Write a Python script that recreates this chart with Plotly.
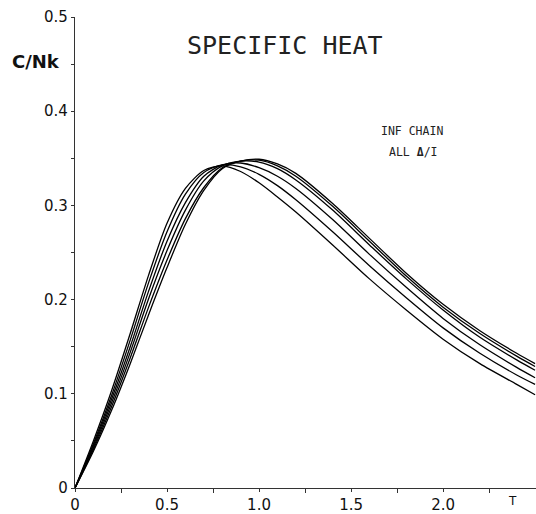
import plotly.graph_objects as go

# Temperature grid (T)
T = [0, 0.1, 0.2, 0.3, 0.4, 0.5, 0.6, 0.7, 0.8, 0.9, 1.0, 1.1, 1.2, 1.4, 1.6, 1.8, 2.0, 2.2, 2.4, 2.5]

# Specific heat C/Nk, six curves for different Δ/I
curve_a = [0, 0.050, 0.104, 0.164, 0.226, 0.281, 0.318, 0.337, 0.342, 0.336, 0.324, 0.309, 0.293, 0.258, 0.222, 0.189, 0.158, 0.132, 0.110, 0.099]
curve_b = [0, 0.047, 0.099, 0.157, 0.218, 0.272, 0.312, 0.335, 0.343, 0.341, 0.333, 0.321, 0.306, 0.272, 0.236, 0.202, 0.170, 0.143, 0.120, 0.110]
curve_c = [0, 0.045, 0.095, 0.150, 0.209, 0.262, 0.303, 0.331, 0.343, 0.345, 0.340, 0.331, 0.318, 0.285, 0.248, 0.213, 0.180, 0.152, 0.128, 0.117]
curve_d = [0, 0.043, 0.091, 0.144, 0.201, 0.252, 0.295, 0.326, 0.342, 0.347, 0.346, 0.339, 0.327, 0.295, 0.258, 0.222, 0.189, 0.160, 0.136, 0.125]
curve_e = [0, 0.041, 0.087, 0.138, 0.192, 0.242, 0.286, 0.319, 0.340, 0.347, 0.348, 0.342, 0.331, 0.299, 0.262, 0.225, 0.192, 0.164, 0.140, 0.129]
curve_f = [0, 0.039, 0.083, 0.132, 0.184, 0.234, 0.280, 0.316, 0.339, 0.347, 0.349, 0.344, 0.334, 0.302, 0.265, 0.228, 0.195, 0.167, 0.143, 0.132]

x_tickvals = [0, 0.5, 1.0, 1.5, 2.0]
x_ticktext = ["0", "0.5", "1.0", "1.5", "2.0"]
y_tickvals = [0, 0.1, 0.2, 0.3, 0.4, 0.5]
y_ticktext = ["0", "0.1", "0.2", "0.3", "0.4", "0.5"]

fig = go.Figure()
for ys in [curve_a, curve_b, curve_c, curve_d, curve_e, curve_f]:
    fig.add_trace(go.Scatter(x=T, y=ys, mode="lines",
                             line=dict(color="black", width=1.3, shape="spline", smoothing=0.8),
                             showlegend=False, hoverinfo="skip"))

tickfont = dict(family="DejaVu Sans", size=15, color="#111")

fig.update_layout(
    width=536, height=514,
    margin=dict(l=75, r=0, t=17, b=21),
    paper_bgcolor="white", plot_bgcolor="white",
    xaxis=dict(range=[0, 2.505], showgrid=False, zeroline=False,
               showline=True, linecolor="#333", linewidth=1.2,
               tickmode="array", tickvals=x_tickvals, ticktext=x_ticktext,
               ticks="outside", ticklen=3, tickcolor="#333", tickfont=tickfont,
               minor=dict(tickvals=[0.25, 0.75, 1.25, 1.75, 2.25], ticks="outside", ticklen=4, tickcolor="#333")),
    yaxis=dict(range=[0, 0.5], showgrid=False, zeroline=False,
               showline=True, linecolor="#333", linewidth=1.2,
               tickmode="array", tickvals=y_tickvals, ticktext=y_ticktext,
               ticks="outside", ticklen=3, tickcolor="#333", tickfont=tickfont,
               minor=dict(tickvals=[0.05, 0.15, 0.25, 0.35, 0.45], ticks="outside", ticklen=3, tickcolor="#333")),
)

fig.add_annotation(text="<b>C/Nk</b>", x=36, y=514 - 62,
                   font=dict(family="DejaVu Sans", size=18, color="#111"))
fig.add_annotation(text="SPECIFIC HEAT", x=285, y=514 - 46,
                   font=dict(family="DejaVu Sans Mono", size=25, color="#222"))
fig.add_annotation(text="INF CHAIN", x=412, y=514 - 132,
                   font=dict(family="DejaVu Sans Mono", size=11.5, color="#222"))
fig.add_annotation(text="ALL <b>Δ</b>/I", x=413, y=514 - 153,
                   font=dict(family="DejaVu Sans Mono", size=11.5, color="#222"))
fig.add_annotation(text="T", x=512, y=514 - 506,
                   font=dict(family="DejaVu Sans", size=12, color="#111"))

# convert pixel-based annotation coordinates into paper fractions
pw, ph = 536 - 75 - 0, 514 - 17 - 21
for ann in fig.layout.annotations:
    ann.x = (ann.x - 75) / pw
    ann.y = (ann.y - 21) / ph
    ann.xref = "paper"
    ann.yref = "paper"
    ann.xanchor = "center"
    ann.yanchor = "middle"
    ann.showarrow = False

fig.write_html("out.html")
